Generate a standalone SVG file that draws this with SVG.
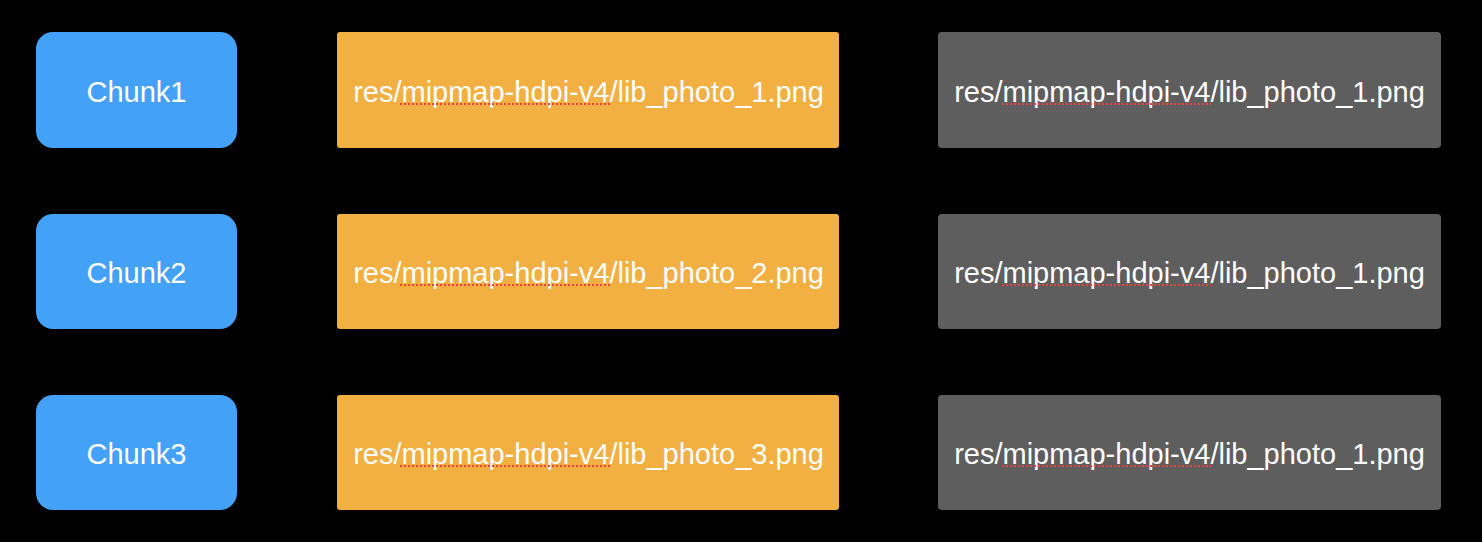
<svg xmlns="http://www.w3.org/2000/svg" width="1482" height="542" viewBox="0 0 1482 542">
  <style>
    .chunk { fill: #43a2f8; }
    .src { fill: #f3b042; }
    .dst { fill: #5e5e5e; }
    .label { font-family: "Liberation Sans", Arial, sans-serif; font-size: 29px; fill: #ffffff; text-anchor: middle; }
    .spell { stroke: #e8443a; stroke-width: 2; stroke-dasharray: 2 2; fill: none; }
  </style>
  <rect x="0" y="0" width="1482" height="542" fill="#000000"/>

  <!-- row 1 -->
  <g id="chunk1">
    <rect class="chunk" x="36" y="32" width="201" height="116" rx="17"/>
    <text class="label" x="136.5" y="101.5">Chunk1</text>
  </g>
  <g id="src1">
    <rect class="src" x="337" y="32" width="502" height="116" rx="3"/>
    <text class="label" x="588.5" y="101.5">res/mipmap-hdpi-v4/lib_photo_1.png</text>
    <line class="spell" x1="400" y1="104" x2="610" y2="104"/>
  </g>
  <g id="dst1">
    <rect class="dst" x="938" y="32" width="503" height="116" rx="4"/>
    <text class="label" x="1189.5" y="101.5">res/mipmap-hdpi-v4/lib_photo_1.png</text>
    <line class="spell" x1="1002" y1="104" x2="1211" y2="104"/>
  </g>

  <!-- row 2 -->
  <g id="chunk2">
    <rect class="chunk" x="36" y="214" width="201" height="115" rx="17"/>
    <text class="label" x="136.5" y="282.5">Chunk2</text>
  </g>
  <g id="src2">
    <rect class="src" x="337" y="214" width="502" height="115" rx="3"/>
    <text class="label" x="588.5" y="282.5">res/mipmap-hdpi-v4/lib_photo_2.png</text>
    <line class="spell" x1="400" y1="285" x2="610" y2="285"/>
  </g>
  <g id="dst2">
    <rect class="dst" x="938" y="214" width="503" height="115" rx="4"/>
    <text class="label" x="1189.5" y="282.5">res/mipmap-hdpi-v4/lib_photo_1.png</text>
    <line class="spell" x1="1002" y1="285" x2="1211" y2="285"/>
  </g>

  <!-- row 3 -->
  <g id="chunk3">
    <rect class="chunk" x="36" y="395" width="201" height="115" rx="17"/>
    <text class="label" x="136.5" y="463.5">Chunk3</text>
  </g>
  <g id="src3">
    <rect class="src" x="337" y="395" width="502" height="115" rx="3"/>
    <text class="label" x="588.5" y="463.5">res/mipmap-hdpi-v4/lib_photo_3.png</text>
    <line class="spell" x1="400" y1="466" x2="610" y2="466"/>
  </g>
  <g id="dst3">
    <rect class="dst" x="938" y="395" width="503" height="115" rx="4"/>
    <text class="label" x="1189.5" y="463.5">res/mipmap-hdpi-v4/lib_photo_1.png</text>
    <line class="spell" x1="1002" y1="466" x2="1211" y2="466"/>
  </g>

  <g id="connectors"></g>
</svg>
